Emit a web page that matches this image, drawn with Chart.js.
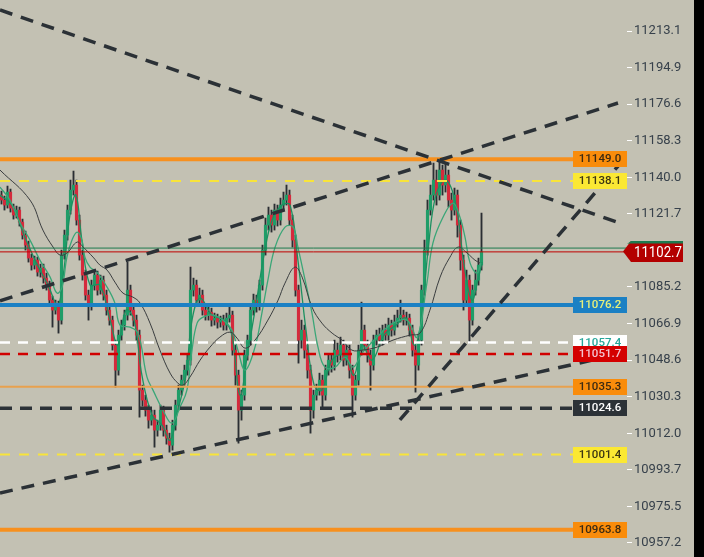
<!doctype html>
<html><head><meta charset="utf-8">
<script src="https://cdn.jsdelivr.net/npm/chart.js@4"></script>
<style>
* { margin:0; padding:0; box-sizing:border-box; }
html,body { width:704px; height:557px; overflow:hidden; background:#000; }
#wrap { position:absolute; left:0; top:0; width:694px; height:557px; background:#c3c1b3; }
</style></head>
<body><div id="wrap"><canvas id="c" width="694" height="557"></canvas></div>
<script>
// candles: [open, high, low, close]
const candles = [
[11131.1,11133.1,11126.6,11128.6],[11128.6,11130.6,11123.6,11126.1],[11126.1,11135.6,11124.6,11132.6],[11132.6,11134.1,11122.6,11124.6],
[11124.6,11126.6,11119.1,11121.1],[11121.1,11125.6,11119.6,11123.6],[11123.6,11125.1,11115.6,11117.6],[11117.6,11119.1,11109.1,11111.1],
[11111.1,11113.1,11103.6,11106.1],[11106.1,11108.1,11097.6,11099.6],[11099.6,11101.6,11093.6,11096.1],[11096.1,11100.6,11094.1,11098.6],
[11098.6,11100.1,11090.6,11092.6],[11092.6,11096.6,11090.1,11094.6],[11094.6,11096.6,11087.1,11089.6],[11089.6,11092.1,11083.6,11086.1],
[11086.1,11088.1,11076.1,11078.6],[11078.6,11080.6,11065.1,11073.6],[11073.6,11078.6,11071.6,11076.1],[11076.1,11078.1,11062.1,11068.6],
[11068.6,11103.6,11066.6,11101.1],[11101.1,11113.6,11099.1,11111.1],[11111.1,11126.1,11108.6,11123.6],[11123.6,11138.6,11121.6,11133.6],
[11133.6,11143.1,11131.1,11136.1],[11136.1,11138.6,11116.1,11118.6],[11118.6,11121.1,11098.6,11101.1],[11101.1,11103.6,11088.6,11091.1],
[11091.1,11093.6,11078.6,11081.1],[11081.1,11083.6,11068.6,11076.1],[11076.1,11088.6,11073.6,11086.1],[11086.1,11093.6,11083.6,11091.1],
[11091.1,11093.1,11081.1,11083.6],[11083.6,11091.1,11081.6,11088.6],[11088.6,11090.6,11078.6,11081.1],[11081.1,11083.6,11071.1,11073.6],
[11073.6,11076.1,11066.1,11068.6],[11068.6,11070.6,11053.6,11056.1],[11056.1,11058.6,11035.1,11043.6],[11043.6,11063.6,11041.1,11061.1],
[11061.1,11068.6,11058.6,11066.1],[11066.1,11073.6,11063.6,11071.1],[11071.1,11097.6,11068.6,11083.6],[11083.6,11086.1,11071.1,11073.6],
[11073.6,11076.1,11065.6,11068.6],[11068.6,11071.1,11058.6,11061.1],[11061.1,11063.6,11020.1,11033.6],[11033.6,11036.1,11025.6,11028.6],
[11028.6,11031.1,11020.6,11023.6],[11023.6,11026.1,11014.6,11018.6],[11018.6,11023.6,11016.1,11021.1],[11021.1,11023.6,11005.1,11013.6],
[11013.6,11018.6,11010.6,11016.1],[11016.1,11026.1,11013.6,11023.6],[11023.6,11025.6,11010.6,11013.6],[11013.6,11016.1,11006.6,11009.6],
[11009.6,11012.1,11002.6,11006.1],[11006.1,11018.6,11003.6,11016.1],[11016.1,11028.6,11013.6,11026.1],[11026.1,11036.1,11023.6,11033.6],
[11033.6,11041.1,11031.1,11038.6],[11038.6,11046.1,11036.1,11043.6],[11043.6,11051.1,11041.1,11048.6],[11048.6,11095.1,11046.1,11083.6],
[11083.6,11089.6,11080.6,11086.1],[11086.1,11088.6,11076.1,11078.6],[11078.6,11084.6,11076.1,11081.1],[11081.1,11083.6,11071.1,11073.6],
[11073.6,11076.1,11068.6,11071.1],[11071.1,11075.1,11068.6,11072.6],[11072.6,11074.6,11065.6,11068.6],[11068.6,11072.1,11066.1,11069.6],
[11069.6,11071.6,11064.6,11067.6],[11067.6,11070.6,11065.1,11068.6],[11068.6,11071.1,11063.6,11066.1],[11066.1,11072.1,11063.6,11069.6],
[11069.6,11075.1,11067.6,11071.1],[11071.1,11073.1,11051.1,11053.6],[11053.6,11056.1,11036.1,11041.1],[11041.1,11043.6,11007.1,11023.6],
[11023.6,11033.6,11018.6,11031.1],[11031.1,11053.6,11028.6,11051.1],[11051.1,11061.1,11048.6,11058.6],[11058.6,11076.1,11056.1,11073.6],
[11073.6,11081.6,11071.1,11078.6],[11078.6,11081.1,11072.6,11076.1],[11076.1,11088.6,11073.6,11086.1],[11086.1,11106.1,11083.6,11103.6],
[11103.6,11119.6,11101.1,11116.1],[11116.1,11125.1,11113.6,11121.1],[11121.1,11123.6,11112.6,11116.1],[11116.1,11126.6,11113.6,11123.6],
[11123.6,11126.1,11115.6,11118.6],[11118.6,11129.6,11116.1,11126.1],[11126.1,11132.6,11123.6,11128.6],[11128.6,11136.1,11126.1,11131.1],
[11131.1,11133.6,11116.1,11118.6],[11118.6,11121.1,11105.1,11108.6],[11108.6,11111.1,11080.6,11083.6],[11083.6,11086.1,11047.1,11058.6],
[11058.6,11068.6,11054.6,11063.6],[11063.6,11066.1,11049.6,11053.6],[11053.6,11056.1,11039.6,11043.6],[11043.6,11046.1,11012.1,11023.6],
[11023.6,11033.6,11019.6,11031.1],[11031.1,11036.6,11028.6,11033.6],[11033.6,11042.1,11031.1,11038.6],[11038.6,11041.1,11025.1,11031.1],
[11031.1,11046.1,11028.6,11043.6],[11043.6,11051.6,11041.1,11048.6],[11048.6,11051.1,11042.6,11046.1],[11046.1,11058.6,11043.6,11053.6],
[11053.6,11057.1,11047.6,11051.1],[11051.1,11060.1,11048.6,11056.1],[11056.1,11058.6,11045.6,11048.6],[11048.6,11056.1,11046.1,11053.6],
[11053.6,11056.1,11039.6,11043.6],[11043.6,11046.1,11020.1,11031.1],[11031.1,11041.1,11028.6,11038.6],[11038.6,11056.1,11036.1,11053.6],
[11053.6,11077.6,11051.1,11063.6],[11063.6,11066.1,11053.6,11056.1],[11056.1,11058.6,11047.6,11051.1],[11051.1,11053.6,11033.6,11046.1],
[11046.1,11061.1,11043.6,11058.6],[11058.6,11063.6,11056.1,11061.1],[11061.1,11064.6,11055.6,11058.6],[11058.6,11066.1,11056.1,11063.6],
[11063.6,11066.6,11058.6,11061.1],[11061.1,11069.6,11058.6,11066.1],[11066.1,11068.6,11060.6,11063.6],[11063.6,11071.1,11061.1,11067.6],
[11067.6,11073.6,11065.1,11069.6],[11069.6,11078.6,11067.6,11071.1],[11071.1,11073.6,11066.1,11068.6],[11068.6,11072.6,11066.1,11069.6],
[11069.6,11071.6,11060.6,11063.6],[11063.6,11066.1,11050.6,11053.6],[11053.6,11056.1,11032.6,11046.1],[11046.1,11061.1,11043.6,11058.6],
[11058.6,11086.1,11056.1,11083.6],[11083.6,11108.6,11081.1,11103.6],[11103.6,11128.6,11101.1,11123.6],[11123.6,11136.1,11121.1,11131.1],
[11131.1,11147.1,11128.6,11138.6],[11138.6,11143.6,11126.1,11131.1],[11131.1,11148.6,11128.6,11143.6],[11143.6,11146.1,11131.1,11136.1],
[11136.1,11147.1,11132.6,11141.1],[11141.1,11143.6,11125.1,11128.6],[11128.6,11132.1,11118.6,11123.6],[11123.6,11134.6,11121.1,11131.1],
[11131.1,11133.6,11110.1,11116.1],[11116.1,11118.6,11093.6,11098.6],[11098.6,11101.1,11073.6,11078.6],[11078.6,11093.6,11076.1,11088.6],
[11088.6,11091.1,11057.1,11068.6],[11068.6,11086.1,11066.1,11083.6],[11083.6,11093.6,11081.1,11088.6],[11088.6,11099.6,11086.1,11096.1],
[11096.1,11122.1,11093.6,11102.7]
];

// moving averages as [candle index, price]
const maFast = [[-0.5,11131.1],[3.5,11126.1],[7.5,11111.1],[11.5,11097.6],[15.5,11086.1],[18.8,11076.1],[20.8,11093.6],[22.8,11121.1],
[24.8,11131.1],[26.8,11108.6],[29.5,11086.1],[32.8,11086.1],[36.2,11068.6],[38.8,11056.1],[41.5,11073.6],[44.2,11068.6],[46.8,11041.1],
[50.2,11021.1],[53.5,11016.1],[56.2,11008.6],[58.8,11023.6],[61.5,11041.1],[63.5,11068.6],[66.2,11079.6],[70.2,11071.1],[74.2,11068.6],
[76.8,11061.1],[79.5,11031.1],[82.2,11053.6],[84.8,11076.1],[87.5,11101.1],[90.2,11118.6],[93.5,11126.1],[96.2,11126.1],[98.8,11098.6],
[101.5,11063.6],[104.2,11036.1],[106.8,11033.6],[110.2,11048.6],[114.2,11051.1],[117.5,11041.1],[120.2,11056.1],[123.5,11048.6],
[127.5,11061.1],[131.5,11066.1],[134.8,11069.6],[137.5,11056.1],[139.5,11063.6],[142.2,11103.6],[144.8,11131.1],[148.2,11138.6],
[151.5,11126.1],[154.2,11096.1],[156.8,11078.6],[158.8,11088.6],[160.2,11097.6]];
const maMid = [[-0.5,11135.1],[2.8,11128.6],[6.2,11117.1],[9.5,11108.6],[12.8,11098.6],[16.2,11090.1],[18.5,11082.1],[20.2,11085.1],
[21.8,11100.1],[23.5,11108.6],[25.2,11112.6],[26.8,11108.6],[27.8,11100.1],[29.5,11095.1],[31.8,11092.6],[35.2,11085.1],[37.8,11077.1],
[39.5,11066.1],[42.8,11065.1],[45.5,11062.1],[48.5,11040.1],[50.5,11033.6],[53.8,11023.6],[56.8,11017.1],[59.5,11025.1],[61.8,11033.6],
[63.5,11053.6],[65.2,11067.1],[67.2,11070.1],[70.5,11071.1],[73.8,11068.6],[76.8,11063.6],[78.8,11053.6],[81.2,11043.6],[84.5,11055.1],
[86.8,11072.1],[88.8,11088.6],[91.2,11105.1],[94.5,11115.1],[97.2,11115.1],[98.8,11105.1],[101.2,11088.6],[103.5,11072.1],[105.5,11055.1],
[107.8,11045.1],[111.2,11045.1],[114.5,11050.1],[117.2,11045.1],[120.2,11052.1],[125.2,11060.1],[130.5,11067.1],[135.2,11068.6],
[138.5,11060.1],[141.8,11087.1],[143.8,11107.1],[147.2,11120.1],[150.5,11127.1],[152.8,11120.1],[154.5,11110.1],[156.2,11097.1],
[158.5,11092.1],[159.8,11097.1]];
const maSlow = [[-0.5,11143.6],[9.5,11128.6],[13.8,11113.6],[17.2,11105.1],[19.5,11101.1],[21.8,11102.1],[25.2,11107.6],[27.2,11105.1],
[30.5,11100.1],[32.8,11096.1],[35.2,11093.6],[37.8,11087.6],[40.5,11082.1],[43.8,11080.1],[46.2,11077.1],[49.5,11067.1],[52.8,11053.6],
[56.2,11042.1],[58.8,11037.1],[60.5,11036.1],[62.8,11040.1],[66.2,11048.6],[69.5,11055.1],[72.8,11060.1],[76.2,11062.6],[78.5,11059.6],
[81.2,11054.6],[84.5,11058.6],[88.8,11068.6],[92.2,11078.6],[94.5,11087.1],[97.8,11095.1],[100.2,11090.1],[103.5,11075.1],[106.8,11067.1],
[110.2,11062.1],[113.5,11058.6],[116.8,11053.6],[120.2,11053.6],[125.2,11055.1],[130.5,11058.6],[136.2,11061.1],[139.5,11062.1],
[142.8,11073.6],[146.2,11090.1],[149.5,11100.1],[152.2,11105.1],[155.2,11102.1],[157.8,11098.6],[159.5,11097.1]];

// dashed trend lines: two anchor points [candle index, price]
const trendLines = [
  [[-0.5,11223.6],[206.2,11117.1]],
  [[-0.5,11078.2],[205.5,11177.1]],
  [[-0.5,10982.2],[206.2,11051.7]],
  [[132.8,11018.7],[205.8,11146.1]]
];

const yTicks = [11213.1,11194.9,11176.6,11158.3,11140.0,11121.7,11085.2,11066.9,11048.6,11030.3,11012.0,10993.7,10975.5,10957.2];
const levelPrices = [11149.0,11138.1,11076.2,11057.4,11051.7,11035.3,11024.6,11001.4,10963.8];
const lastPrice = 11102.7;
const bidPrice = 11104.6;

// styles for the level lines / tags (same order as levelPrices)
const levelStyle = [
  {line:'#f7901e', w:4,   dash:[],     bg:'#f98c0b', fg:'#3b2a12'},
  {line:'#f8e43a', w:2,   dash:[10,9], bg:'#fbe833', fg:'#3b3512'},
  {line:'#1b80c4', w:4,   dash:[],     bg:'#1b80c4', fg:'#e8f07a'},
  {line:'#ffffff', w:2.5, dash:[10,8], bg:'#ffffff', fg:'#26a69a'},
  {line:'#d10000', w:2.5, dash:[10,8], bg:'#d40000', fg:'#f3c4d0'},
  {line:'#e8a14e', w:2,   dash:[],     bg:'#f98c0b', fg:'#3b2a12'},
  {line:'#2c3237', w:3.5, dash:[12,8], bg:'#2c3237', fg:'#ffffff'},
  {line:'#f8e43a', w:2,   dash:[10,9], bg:'#fbe833', fg:'#3b3512'},
  {line:'#f7901e', w:4,   dash:[],     bg:'#f98c0b', fg:'#3b2a12'}
];

const X_MIN = -0.5, X_MAX = 208.5, TAG_LEFT = 190.5;
const GREEN = '#1f9d68', RED = '#d42a3c', WICK = '#2a2e33';

const pts = arr => arr.map(p => ({x: p[0], y: p[1]}));
const datasets = [];

trendLines.forEach(t => datasets.push({
  type:'line', data: pts(t), borderColor:'#2b3136', borderWidth:3.5, borderDash:[13,9],
  pointRadius:0, order:1
}));

levelPrices.forEach((p, i) => {
  const s = levelStyle[i];
  datasets.push({type:'line', data: pts([[X_MIN,p],[TAG_LEFT,p]]), borderColor:s.line,
    borderWidth:s.w, borderDash:s.dash, pointRadius:0, order:2});
});
datasets.push({type:'line', data: pts([[X_MIN,bidPrice],[X_MAX,bidPrice]]), borderColor:'#1e7a4f', borderWidth:1, pointRadius:0, order:2});
datasets.push({type:'line', data: pts([[X_MIN,lastPrice],[X_MAX,lastPrice]]), borderColor:'#c00000', borderWidth:1, pointRadius:0, order:2});

datasets.push({type:'line', data: pts(maSlow), borderColor:'#3a3d3f', borderWidth:1, pointRadius:0, tension:0.4, order:5});
datasets.push({type:'line', data: pts(maMid), borderColor:'#3aa677', borderWidth:1.3, pointRadius:0, tension:0.4, order:5});
datasets.push({type:'line', data: pts(maFast), borderColor:'#1c9060', borderWidth:1.3, pointRadius:0, tension:0.4, order:5});

datasets.push({type:'bar', data: candles.map((c, i) => ({x:i, y:[c[0], c[3]]})),
  backgroundColor: candles.map(c => c[3] >= c[0] ? GREEN : RED),
  barThickness:2.5, grouped:false, borderWidth:0, order:8});
datasets.push({type:'bar', data: candles.map((c, i) => ({x:i, y:[c[2], c[1]]})),
  backgroundColor: WICK, barThickness:1.2, grouped:false, borderWidth:0, order:9});

const tagPlugin = {
  id:'tags',
  afterDraw(chart) {
    const {ctx, scales:{x, y}, chartArea} = chart;
    ctx.save();
    ctx.textBaseline = 'middle';
    ctx.textAlign = 'center';
    ctx.font = '500 11.5px Roboto';
    const left = Math.round(x.getPixelForValue(TAG_LEFT));
    const right = Math.round(chartArea.right);
    levelPrices.forEach((p, i) => {
      const s = levelStyle[i];
      const yy = Math.round(y.getPixelForValue(p));
      ctx.fillStyle = s.bg;
      ctx.fillRect(left, yy - 8, right - left, 16);
      ctx.fillStyle = s.fg;
      ctx.fillText(p.toFixed(1), (left + right) / 2, yy + 0.5);
    });
    // last price tag
    const ly = y.getPixelForValue(lastPrice);
    const tx = right - 4, tr = 683, top = Math.round(ly) - 11, bot = Math.round(ly) + 10;
    ctx.fillStyle = '#b30000';
    ctx.beginPath();
    ctx.moveTo(tx, (top + bot) / 2);
    ctx.lineTo(tx + 8, top);
    ctx.lineTo(tr, top);
    ctx.lineTo(tr, bot);
    ctx.lineTo(tx + 8, bot);
    ctx.closePath();
    ctx.fill();
    ctx.fillStyle = '#1e7a4f';
    ctx.beginPath();
    ctx.moveTo(tx + 4, top + 3);
    ctx.lineTo(tx + 8, top);
    ctx.lineTo(tr, top);
    ctx.lineTo(tr, top + 2.5);
    ctx.lineTo(tx + 6, top + 2.5);
    ctx.closePath();
    ctx.fill();
    ctx.fillStyle = '#ffffff';
    ctx.font = '15px Roboto';
    ctx.textAlign = 'left';
    ctx.translate(634, ly + 1);
    ctx.scale(0.88, 1);
    ctx.fillText(lastPrice.toFixed(1), 0, 0);
    ctx.restore();
  }
};

new Chart(document.getElementById('c'), {
  type:'bar',
  data:{ datasets },
  options:{
    responsive:false, animation:false, devicePixelRatio:1, events:[],
    layout:{ padding:0 },
    plugins:{ legend:{display:false}, tooltip:{enabled:false} },
    scales:{
      x:{ type:'linear', display:false, min:X_MIN, max:X_MAX, offset:false },
      y:{ type:'linear', position:'right', min:10950.2, max:11228.6,
        afterBuildTicks: s => { s.ticks = yTicks.map(v => ({value:v})); },
        afterFit: s => { s.width = 67; s.paddingTop = 0; s.paddingBottom = 0; },
        border:{ display:false },
        grid:{ drawOnChartArea:false, drawTicks:true, tickLength:5, color:'#ffffff', lineWidth:1 },
        ticks:{ padding:2, color:'#37414b', font:{family:'Roboto', size:13},
          callback: v => Number(v).toFixed(1) }
      }
    }
  },
  plugins:[tagPlugin]
});
</script>
</body></html>
